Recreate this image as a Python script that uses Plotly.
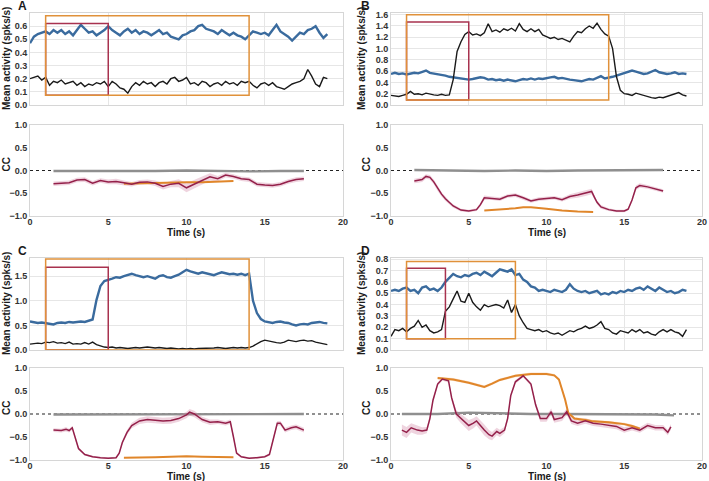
import numpy as np
import plotly.graph_objects as go

W, H = 709, 481

# sample times of the activity traces (s)
t_act = np.arange(0, 19.01, 0.25)

# ---- panel A ----
a_blue = [0.47, 0.52, 0.54, 0.55, 0.56, 0.54, 0.57, 0.55, 0.57, 0.54, 0.56, 0.53,
          0.57, 0.61, 0.58, 0.55, 0.56, 0.53, 0.55, 0.57, 0.60, 0.57, 0.55, 0.53,
          0.56, 0.58, 0.55, 0.57, 0.54, 0.56, 0.55, 0.53, 0.55, 0.57, 0.54, 0.55,
          0.52, 0.51, 0.50, 0.53, 0.54, 0.56, 0.57, 0.60, 0.61, 0.58, 0.57, 0.56,
          0.54, 0.57, 0.55, 0.53, 0.55, 0.53, 0.52, 0.50, 0.53, 0.56, 0.55, 0.54,
          0.55, 0.53, 0.57, 0.61, 0.56, 0.54, 0.52, 0.49, 0.52, 0.55, 0.54, 0.57,
          0.58, 0.60, 0.55, 0.51, 0.54]
a_black = [0.20, 0.21, 0.22, 0.19, 0.21, 0.15, 0.18, 0.17, 0.19, 0.16, 0.17, 0.18,
           0.15, 0.17, 0.14, 0.16, 0.15, 0.17, 0.16, 0.18, 0.14, 0.18, 0.16, 0.13,
           0.12, 0.09, 0.14, 0.17, 0.15, 0.18, 0.16, 0.17, 0.14, 0.17, 0.18, 0.16,
           0.20, 0.21, 0.18, 0.19, 0.21, 0.16, 0.17, 0.15, 0.18, 0.17, 0.14, 0.16,
           0.17, 0.15, 0.18, 0.16, 0.17, 0.15, 0.18, 0.17, 0.18, 0.15, 0.13, 0.16,
           0.17, 0.15, 0.17, 0.14, 0.13, 0.12, 0.14, 0.16, 0.17, 0.18, 0.20, 0.27,
           0.22, 0.16, 0.14, 0.21, 0.20]
a_cc_t = [1.5, 2.0, 2.5, 3.0, 3.5, 4.0, 4.5, 5.0, 5.5, 6.0, 6.5, 7.0, 7.5, 8.0, 8.5,
          9.0, 9.5, 10.0, 10.5, 11.0, 11.5, 12.0, 12.5, 13.0, 13.5, 14.0, 14.5,
          15.0, 15.5, 16.0, 16.5, 17.0, 17.5]
a_cc = [-0.29, -0.28, -0.27, -0.21, -0.20, -0.28, -0.22, -0.25, -0.24, -0.27, -0.30,
        -0.26, -0.25, -0.28, -0.35, -0.30, -0.28, -0.38, -0.30, -0.22, -0.14, -0.18,
        -0.10, -0.13, -0.18, -0.20, -0.30, -0.32, -0.33, -0.30, -0.24, -0.20, -0.18]
a_cc_err = [0.05, 0.05, 0.05, 0.05, 0.05, 0.05, 0.05, 0.05, 0.06, 0.05, 0.05, 0.05,
            0.05, 0.06, 0.07, 0.07, 0.09, 0.10, 0.10, 0.09, 0.08, 0.06, 0.05, 0.05,
            0.05, 0.05, 0.05, 0.05, 0.05, 0.05, 0.05, 0.05, 0.05]
a_or_t = [6, 7, 8, 9, 10, 11, 12, 13]
a_or = [-0.29, -0.28, -0.27, -0.27, -0.26, -0.26, -0.25, -0.23]
a_gr_t = [1.5, 4, 6, 8, 10, 12, 14, 16, 17.5]
a_gr = [-0.01, -0.01, -0.02, -0.01, 0.00, -0.01, -0.02, -0.01, -0.01]
a_ticks = [0.0, 0.1, 0.2, 0.3, 0.4, 0.5, 0.6]

# ---- panel B ----
b_blue = [0.55, 0.57, 0.55, 0.56, 0.54, 0.56, 0.57, 0.56, 0.58, 0.61, 0.57, 0.56,
          0.55, 0.53, 0.52, 0.50, 0.49, 0.48, 0.47, 0.45, 0.45, 0.46, 0.47, 0.49,
          0.48, 0.45, 0.46, 0.44, 0.45, 0.43, 0.45, 0.44, 0.42, 0.44, 0.46, 0.45,
          0.47, 0.45, 0.47, 0.46, 0.48, 0.49, 0.50, 0.47, 0.48, 0.46, 0.45, 0.44,
          0.43, 0.42, 0.44, 0.46, 0.45, 0.48, 0.51, 0.47, 0.48, 0.50, 0.52, 0.54,
          0.56, 0.58, 0.61, 0.59, 0.57, 0.55, 0.56, 0.59, 0.62, 0.58, 0.57, 0.55,
          0.56, 0.58, 0.55, 0.56, 0.55]
b_black = [0.17, 0.16, 0.15, 0.17, 0.19, 0.24, 0.19, 0.20, 0.18, 0.21, 0.19, 0.18,
           0.17, 0.19, 0.17, 0.18, 0.45, 0.95, 1.12, 1.25, 1.30, 1.24, 1.26, 1.23,
           1.28, 1.44, 1.30, 1.33, 1.29, 1.35, 1.32, 1.36, 1.31, 1.44, 1.34, 1.30,
           1.35, 1.30, 1.34, 1.24, 1.21, 1.18, 1.20, 1.16, 1.18, 1.15, 1.12, 1.22,
           1.30, 1.28, 1.35, 1.40, 1.36, 1.45, 1.34, 1.26, 1.22, 1.00, 0.50, 0.26,
           0.20, 0.19, 0.17, 0.21, 0.19, 0.17, 0.14, 0.13, 0.12, 0.14, 0.13, 0.15,
           0.17, 0.19, 0.22, 0.18, 0.16]
b_cc_t = [1.5, 1.75, 2.0, 2.25, 2.5, 2.75, 3.0, 3.25, 3.5, 3.75, 4.0, 4.5, 5.0, 5.5,
          5.75, 6.0, 6.5, 7.0, 7.5, 8.0, 8.5, 9.0, 9.5, 10.0, 10.5, 11.0, 11.5, 12.0,
          12.5, 12.9, 13.1, 13.25, 13.5, 14.0, 14.5, 15.0, 15.25, 15.5, 15.75, 16.0,
          16.5, 17.0, 17.5]
b_cc = [-0.23, -0.22, -0.20, -0.13, -0.15, -0.25, -0.40, -0.52, -0.62, -0.71, -0.78,
        -0.87, -0.89, -0.86, -0.75, -0.60, -0.61, -0.63, -0.56, -0.54, -0.60, -0.67,
        -0.63, -0.62, -0.60, -0.64, -0.57, -0.54, -0.50, -0.46, -0.60, -0.70, -0.80,
        -0.86, -0.89, -0.89, -0.85, -0.65, -0.38, -0.33, -0.36, -0.40, -0.45]
b_cc_err = [0.05, 0.05, 0.05, 0.05, 0.05, 0.05, 0.05, 0.05, 0.05, 0.04, 0.04, 0.03,
            0.03, 0.03, 0.04, 0.05, 0.04, 0.04, 0.04, 0.04, 0.04, 0.04, 0.04, 0.04,
            0.04, 0.04, 0.05, 0.06, 0.06, 0.06, 0.05, 0.04, 0.04, 0.03, 0.03, 0.03,
            0.03, 0.04, 0.05, 0.05, 0.04, 0.04, 0.04]
b_or_t = [6, 7, 8, 8.5, 9, 10, 11, 12, 13]
b_or = [-0.88, -0.86, -0.83, -0.81, -0.81, -0.84, -0.88, -0.90, -0.91]
b_gr_t = [1.5, 4, 6, 8, 10, 12, 14, 16, 17.5]
b_gr = [0.01, 0.00, -0.01, 0.00, -0.01, 0.00, 0.00, 0.01, 0.01]
b_ticks = [0.0, 0.2, 0.4, 0.6, 0.8, 1.0, 1.2, 1.4, 1.6]

# ---- panel C ----
c_blue = [0.58, 0.56, 0.55, 0.56, 0.55, 0.53, 0.52, 0.55, 0.56, 0.55, 0.57, 0.56,
          0.57, 0.58, 0.57, 0.60, 0.62, 1.02, 1.30, 1.40, 1.42, 1.45, 1.48, 1.47,
          1.50, 1.52, 1.55, 1.52, 1.50, 1.48, 1.50, 1.47, 1.45, 1.50, 1.52, 1.48,
          1.47, 1.50, 1.53, 1.58, 1.63, 1.60, 1.58, 1.55, 1.58, 1.56, 1.54, 1.52,
          1.55, 1.58, 1.56, 1.54, 1.55, 1.53, 1.55, 1.52, 1.55, 1.00, 0.75, 0.63,
          0.58, 0.56, 0.55, 0.57, 0.58, 0.56, 0.55, 0.52, 0.50, 0.52, 0.53, 0.52,
          0.55, 0.56, 0.57, 0.55, 0.54]
c_black = [0.12, 0.13, 0.14, 0.13, 0.16, 0.15, 0.17, 0.14, 0.15, 0.13, 0.16, 0.12,
           0.13, 0.12, 0.15, 0.12, 0.16, 0.11, 0.08, 0.06, 0.05, 0.06, 0.04, 0.05,
           0.04, 0.03, 0.04, 0.05, 0.04, 0.05, 0.06, 0.05, 0.04, 0.05, 0.04, 0.03,
           0.04, 0.03, 0.02, 0.03, 0.02, 0.03, 0.02, 0.03, 0.03, 0.04, 0.03, 0.04,
           0.05, 0.04, 0.03, 0.04, 0.05, 0.04, 0.05, 0.04, 0.05, 0.08, 0.13, 0.17,
           0.20, 0.18, 0.17, 0.15, 0.14, 0.16, 0.20, 0.18, 0.17, 0.19, 0.20, 0.18,
           0.19, 0.16, 0.14, 0.13, 0.11]
c_cc_t = [1.5, 2.0, 2.3, 2.5, 2.7, 2.9, 3.1, 3.5, 4.0, 4.5, 5.0, 5.5, 5.7, 5.9, 6.2,
          6.5, 7.0, 7.5, 8.0, 8.5, 9.0, 9.5, 10.0, 10.2, 10.5, 11.0, 11.5, 12.0, 12.5,
          12.8, 13.0, 13.2, 13.5, 14.0, 14.5, 15.0, 15.3, 15.5, 15.8, 16.0, 16.3,
          16.7, 17.0, 17.5]
c_cc = [-0.35, -0.36, -0.33, -0.36, -0.30, -0.55, -0.75, -0.88, -0.93, -0.95, -0.96,
        -0.95, -0.85, -0.62, -0.40, -0.25, -0.15, -0.12, -0.13, -0.15, -0.14, -0.10,
        -0.02, 0.04, 0.00, -0.12, -0.18, -0.17, -0.20, -0.17, -0.50, -0.85, -0.93,
        -0.96, -0.95, -0.93, -0.88, -0.60, -0.20, -0.20, -0.35, -0.30, -0.28, -0.35]
c_cc_err = [0.04, 0.04, 0.05, 0.04, 0.04, 0.03, 0.03, 0.02, 0.02, 0.02, 0.02, 0.02,
            0.03, 0.04, 0.05, 0.06, 0.07, 0.07, 0.07, 0.07, 0.07, 0.07, 0.07, 0.07,
            0.07, 0.06, 0.06, 0.05, 0.05, 0.05, 0.04, 0.03, 0.02, 0.02, 0.02, 0.02,
            0.03, 0.04, 0.05, 0.05, 0.05, 0.05, 0.05, 0.05]
c_or_t = [6, 7, 8, 9, 10, 11, 12, 13]
c_or = [-0.95, -0.95, -0.94, -0.93, -0.92, -0.93, -0.93, -0.94]
c_gr_t = [1.5, 4, 6, 8, 10, 12, 14, 16, 17.5]
c_gr = [-0.01, -0.01, -0.01, 0.00, -0.01, -0.01, 0.00, 0.00, 0.00]
c_ticks = [0.0, 0.5, 1.0, 1.5]

# ---- panel D ----
d_blue = [0.52, 0.53, 0.52, 0.54, 0.55, 0.52, 0.53, 0.50, 0.55, 0.56, 0.53, 0.54,
          0.52, 0.55, 0.60, 0.64, 0.67, 0.65, 0.64, 0.66, 0.65, 0.67, 0.68, 0.66,
          0.69, 0.67, 0.65, 0.68, 0.71, 0.70, 0.69, 0.71, 0.66, 0.67, 0.62, 0.60,
          0.56, 0.55, 0.52, 0.53, 0.52, 0.51, 0.53, 0.52, 0.51, 0.53, 0.58, 0.54,
          0.52, 0.51, 0.52, 0.50, 0.51, 0.52, 0.49, 0.50, 0.49, 0.51, 0.50, 0.52,
          0.51, 0.53, 0.52, 0.54, 0.55, 0.53, 0.56, 0.54, 0.52, 0.55, 0.53, 0.51,
          0.52, 0.50, 0.51, 0.53, 0.52]
d_black = [0.12, 0.18, 0.17, 0.19, 0.16, 0.19, 0.21, 0.26, 0.20, 0.22, 0.17, 0.15,
           0.16, 0.18, 0.34, 0.38, 0.45, 0.52, 0.43, 0.42, 0.50, 0.42, 0.38, 0.35,
           0.40, 0.38, 0.39, 0.40, 0.39, 0.37, 0.44, 0.33, 0.40, 0.30, 0.24, 0.19,
           0.18, 0.17, 0.18, 0.16, 0.17, 0.15, 0.14, 0.15, 0.13, 0.15, 0.17, 0.16,
           0.18, 0.19, 0.21, 0.19, 0.20, 0.22, 0.25, 0.19, 0.18, 0.15, 0.14, 0.17,
           0.16, 0.15, 0.18, 0.16, 0.18, 0.15, 0.16, 0.14, 0.13, 0.16, 0.18, 0.16,
           0.18, 0.16, 0.15, 0.12, 0.18]
d_cc_t = [0.7, 1.0, 1.3, 1.7, 2.0, 2.3, 2.5, 2.7, 3.0, 3.3, 3.7, 3.9, 4.2, 4.5, 5.0,
          5.3, 5.5, 6.0, 6.3, 6.5, 6.8, 7.0, 7.3, 7.5, 7.7, 8.0, 8.5, 9.0, 9.3, 9.6,
          10.0, 10.3, 10.5, 11.0, 11.3, 11.6, 12.0, 12.5, 13.0, 13.5, 14.0, 14.5,
          15.0, 15.5, 16.0, 16.5, 17.0, 17.5, 17.8, 18.0]
d_cc = [-0.35, -0.40, -0.30, -0.35, -0.37, -0.35, -0.10, 0.30, 0.65, 0.76, 0.72,
        0.35, 0.00, -0.10, -0.25, -0.20, -0.15, -0.35, -0.45, -0.48, -0.38, -0.42,
        -0.35, -0.10, 0.40, 0.70, 0.83, 0.65, 0.20, -0.10, -0.10, 0.05, -0.12, -0.08,
        0.05, -0.15, -0.20, -0.15, -0.20, -0.22, -0.25, -0.27, -0.35, -0.30, -0.35,
        -0.25, -0.30, -0.30, -0.40, -0.28]
d_cc_err = [0.12, 0.12, 0.10, 0.10, 0.08, 0.07, 0.06, 0.05, 0.04, 0.03, 0.04, 0.06,
            0.08, 0.10, 0.12, 0.11, 0.10, 0.12, 0.10, 0.09, 0.08, 0.08, 0.07, 0.06,
            0.05, 0.04, 0.03, 0.04, 0.06, 0.07, 0.07, 0.07, 0.07, 0.07, 0.07, 0.07,
            0.06, 0.06, 0.06, 0.06, 0.06, 0.06, 0.06, 0.06, 0.06, 0.06, 0.06, 0.06,
            0.06, 0.06]
d_or_t = [3, 4, 5, 6, 6.5, 7, 8, 9, 10, 10.5, 10.8, 11.0, 11.2, 11.4, 11.8, 12.5,
          13, 14, 15, 15.5, 16]
d_or = [0.78, 0.75, 0.68, 0.59, 0.66, 0.74, 0.83, 0.87, 0.87, 0.84, 0.75, 0.55,
        0.31, 0.02, -0.10, -0.13, -0.16, -0.18, -0.22, -0.26, -0.32]
d_gr_t = [0.7, 3, 5, 7, 9, 11, 13, 15, 17, 18.2]
d_gr = [0.00, 0.00, 0.03, 0.01, 0.00, 0.00, 0.00, -0.01, -0.01, -0.03]
d_ticks = [0.0, 0.1, 0.2, 0.3, 0.4, 0.5, 0.6, 0.7, 0.8]

cc_ticks = [-1.0, -0.5, 0.0, 0.5, 1.0]
time_ticks = [0, 5, 10, 15, 20]

# stimulus windows: (x0, x1, y0, y1)
boxes = {
    "A": [(1, 5, 0.075, 0.62), (1, 14, 0.075, 0.68)],
    "B": [(1, 5, 0.09, 1.47), (1, 14, 0.09, 1.60)],
    "C": [(1, 5, 0.0, 1.68), (1, 14, 0.0, 1.85)],
    "D": [(1, 3.5, 0.10, 0.72), (1, 8, 0.10, 0.78)],
}

BLUE = "#3a6b9e"
BLACK = "#1a1a1a"
MAROON = "#94204a"
PINK = "rgba(205,120,155,0.32)"
ORANGE = "#e0862a"
BOX_M = "#a8324f"
BOX_O = "#e0913a"
GRAY = "#8f8f8f"
FONT = "Liberation Sans"

# pixel layout: (left, right, top, bottom) of each plot area
panels = [
    ("A", (30, 343, 13, 105), (30, 343, 125, 216), [0, 0.70], a_ticks,
     a_blue, a_black, a_cc_t, a_cc, a_cc_err, a_or_t, a_or, a_gr_t, a_gr),
    ("B", (391, 702, 13, 105), (391, 702, 125, 216), [0, 1.63], b_ticks,
     b_blue, b_black, b_cc_t, b_cc, b_cc_err, b_or_t, b_or, b_gr_t, b_gr),
    ("C", (30, 343, 258, 350), (30, 343, 368, 460), [0, 1.87], c_ticks,
     c_blue, c_black, c_cc_t, c_cc, c_cc_err, c_or_t, c_or, c_gr_t, c_gr),
    ("D", (391, 702, 258, 350), (391, 702, 368, 460), [0, 0.81], d_ticks,
     d_blue, d_black, d_cc_t, d_cc, d_cc_err, d_or_t, d_or, d_gr_t, d_gr),
]


def dom(px):
    l, r, t, b = px
    return [l / W, r / W], [1 - b / H, 1 - t / H]


def label(text, px, py, size=10, angle=0):
    return dict(text=text, x=px / W, y=1 - py / H, xref="paper", yref="paper",
                xanchor="center", yanchor="middle", textangle=angle, showarrow=False,
                font=dict(family=FONT, size=size, color="#1a1a1a", weight="bold"))


fig = go.Figure()
layout = {}
shapes = []
annots = []
tickfont = dict(family=FONT, size=9, color="#333", weight="bold")
frame = dict(showline=True, linecolor="#d6d6d6", linewidth=1, mirror=True,
             ticks="", zeroline=False, automargin=False)

for i, (name, top_px, bot_px, yr, yticks, blue, black, cct, cc, ccerr,
        ort, orv, grt, grv) in enumerate(panels):
    nt, nb = 2 * i + 1, 2 * i + 2
    xt, yt = dom(top_px)
    xb, yb = dom(bot_px)
    axs = "" if nt == 1 else str(nt)

    layout["xaxis" + axs] = dict(domain=xt, range=[0, 20], anchor="y" + axs,
                                 showticklabels=False, tickvals=time_ticks,
                                 showgrid=True, gridcolor="#e6e6e6", **frame)
    layout["yaxis" + axs] = dict(domain=yt, range=yr, anchor="x" + axs,
                                 tickvals=yticks, tickformat=".1f", tickfont=tickfont,
                                 showgrid=True, gridcolor="#e6e6e6", **frame)
    layout["xaxis" + str(nb)] = dict(domain=xb, range=[0, 20], anchor="y" + str(nb),
                                     tickvals=time_ticks, tickfont=tickfont,
                                     ticklabelstandoff=-3, showgrid=False, **frame)
    layout["yaxis" + str(nb)] = dict(domain=yb, range=[-1, 1], anchor="x" + str(nb),
                                     tickvals=cc_ticks, tickformat=".1f",
                                     tickfont=tickfont, showgrid=False, **frame)

    xa, ya = "x" + axs, "y" + axs
    xb_ref, yb_ref = "x" + str(nb), "y" + str(nb)

    fig.add_trace(go.Scatter(x=t_act, y=blue, mode="lines", xaxis=xa, yaxis=ya,
                             line=dict(color=BLUE, width=2.4)))
    fig.add_trace(go.Scatter(x=t_act, y=black, mode="lines", xaxis=xa, yaxis=ya,
                             line=dict(color=BLACK, width=1.4)))

    # stimulus boxes
    for (x0, x1, y0, y1), col in zip(boxes[name], [BOX_M, BOX_O]):
        shapes.append(dict(type="rect", xref=xa, yref=ya, x0=x0, x1=x1, y0=y0, y1=y1,
                           line=dict(color=col, width=1.5)))

    # correlation panel
    fig.add_trace(go.Scatter(x=[0, 20], y=[0, 0], mode="lines", xaxis=xb_ref,
                             yaxis=yb_ref, line=dict(color="#222", width=1.1,
                                                     dash="3px,3px")))
    fig.add_trace(go.Scatter(x=grt, y=grv, mode="lines", xaxis=xb_ref, yaxis=yb_ref,
                             line=dict(color=GRAY, width=2.4)))
    cct_a = np.array(cct)
    cc_a = np.array(cc)
    err = np.array(ccerr)
    fig.add_trace(go.Scatter(x=np.concatenate([cct_a, cct_a[::-1]]),
                             y=np.concatenate([cc_a + err, (cc_a - err)[::-1]]),
                             fill="toself", fillcolor=PINK, mode="lines",
                             line=dict(width=0), xaxis=xb_ref, yaxis=yb_ref))
    if name == "D":
        ort_a = np.array(ort)
        or_a = np.array(orv)
        fig.add_trace(go.Scatter(x=np.concatenate([ort_a, ort_a[::-1]]),
                                 y=np.concatenate([or_a + 0.03, (or_a - 0.03)[::-1]]),
                                 fill="toself", fillcolor="rgba(240,170,110,0.35)",
                                 mode="lines", line=dict(width=0),
                                 xaxis=xb_ref, yaxis=yb_ref))
    fig.add_trace(go.Scatter(x=ort, y=orv, mode="lines", xaxis=xb_ref, yaxis=yb_ref,
                             line=dict(color=ORANGE, width=2)))
    fig.add_trace(go.Scatter(x=cct, y=cc, mode="lines", xaxis=xb_ref, yaxis=yb_ref,
                             line=dict(color=MAROON, width=1.5)))

    # labels
    left_side = top_px[0] < 100
    annots.append(label("Mean activity (spks/s)", 6 if left_side else 361,
                        (top_px[2] + top_px[3]) / 2, angle=-90))
    annots.append(label("CC", 6 if left_side else 366,
                        (bot_px[2] + bot_px[3]) / 2 - 6, angle=-90))
    annots.append(label("Time (s)", (bot_px[0] + bot_px[1]) / 2, bot_px[3] + 16))
    annots.append(label(name, 22 if left_side else 365, top_px[2] - 7, size=12))

fig.update_layout(**layout)
fig.update_layout(width=W, height=H, autosize=False,
                  margin=dict(l=0, r=0, t=0, b=0, pad=0),
                  paper_bgcolor="white", plot_bgcolor="white", showlegend=False,
                  shapes=shapes, annotations=annots, font=dict(family=FONT))
# drop the default 8px page margin so the figure sits at the window origin
fig.write_html("out.html", config={"displayModeBar": False},
               post_script="document.body.style.margin='0';")
